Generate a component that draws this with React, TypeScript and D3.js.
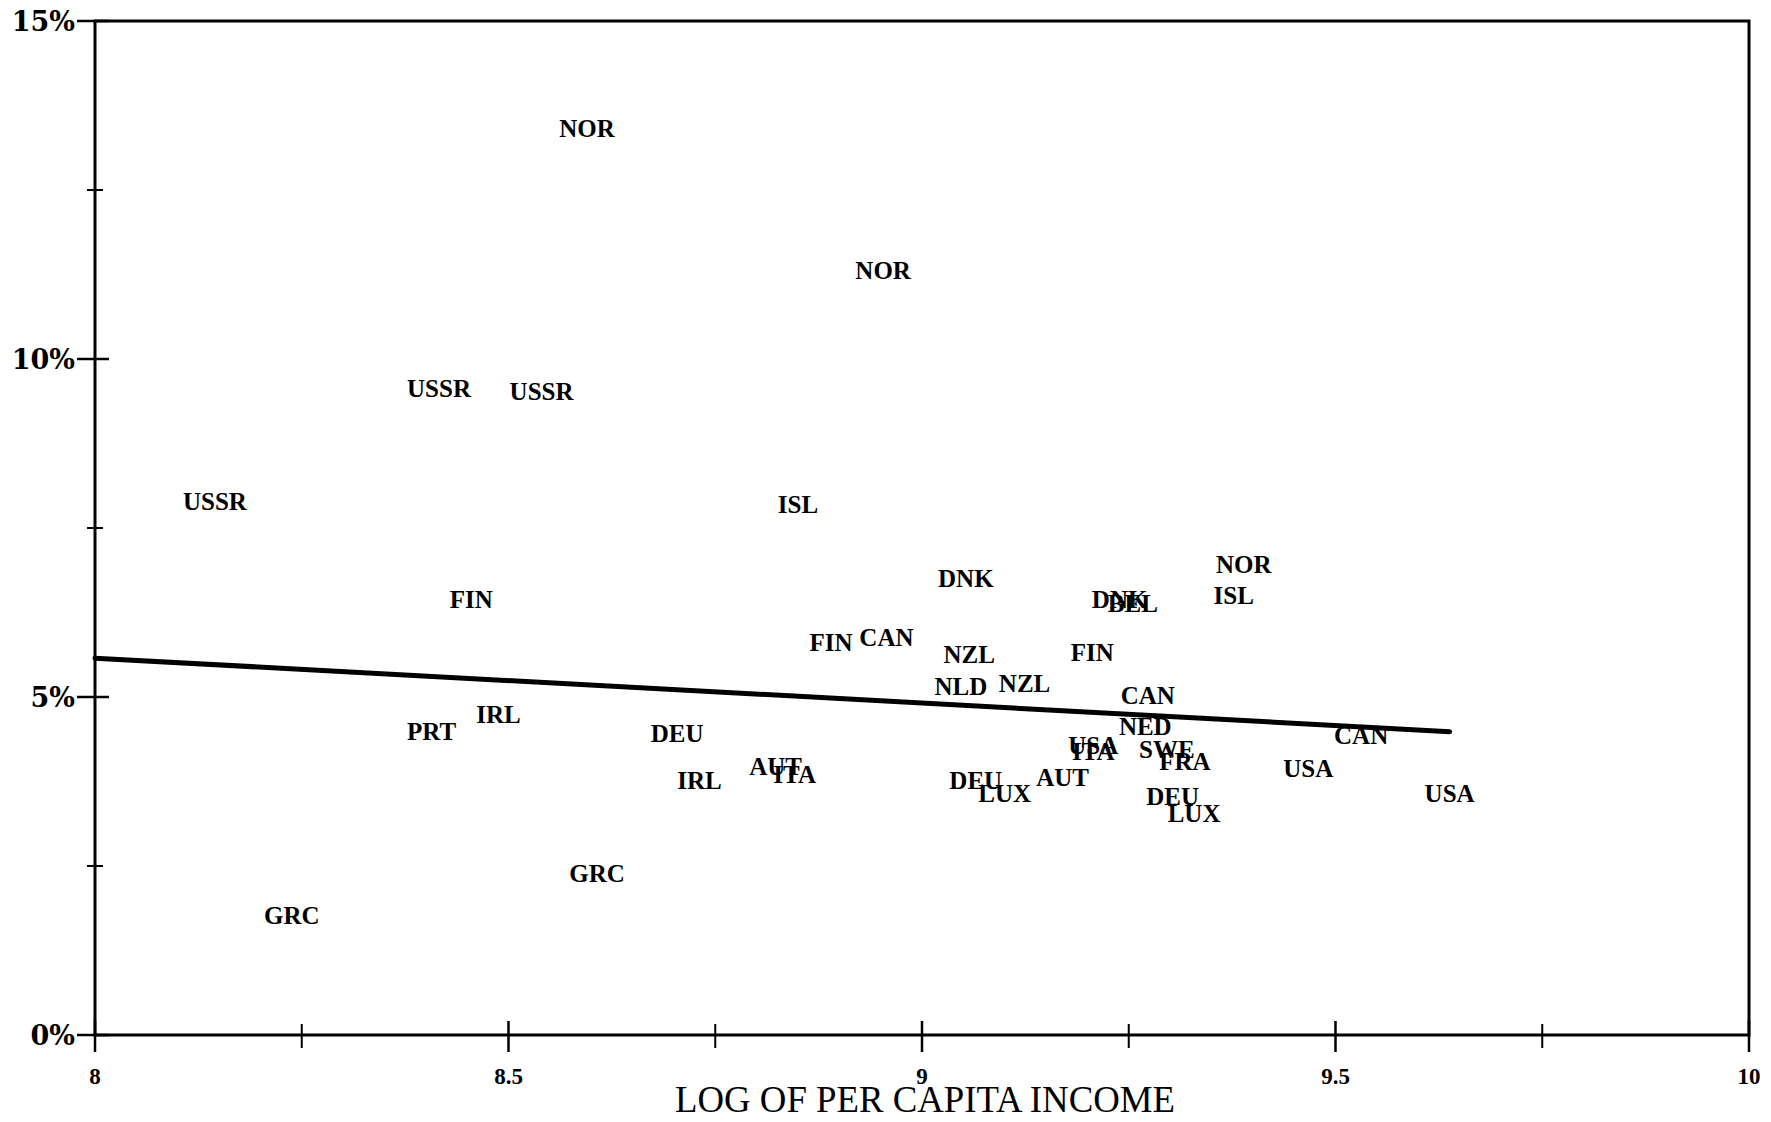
import React from "react";
import * as d3 from "d3";

const countries = ["NOR","NOR","USSR","USSR","USSR","ISL","FIN","DNK","NOR","ISL","DNK","BEL","FIN","CAN","NZL","FIN","NLD","NZL","CAN","NED","USA","ITA","SWE","FRA","CAN","USA","USA","DEU","LUX","AUT","DEU","LUX","AUT","ITA","IRL","DEU","IRL","PRT","GRC","GRC"];
const logIncome = [8.595,8.953,8.416,8.540,8.145,8.850,8.455,9.053,9.389,9.377,9.239,9.255,8.890,8.957,9.057,9.206,9.047,9.124,9.273,9.270,9.207,9.207,9.296,9.318,9.531,9.467,9.638,9.303,9.329,9.170,9.065,9.100,8.823,8.846,8.731,8.704,8.488,8.407,8.607,8.238];
const rates = [13.41,11.32,9.56,9.53,7.89,7.85,6.45,6.75,6.96,6.51,6.45,6.38,5.81,5.89,5.63,5.66,5.16,5.21,5.02,4.57,4.29,4.20,4.22,4.05,4.44,3.95,3.58,3.53,3.28,3.82,3.77,3.58,3.98,3.85,3.77,4.47,4.75,4.49,2.39,1.77];

const fitX = [8, 9.638];
const fitY = [5.575, 4.487];

const xMajorTicks = [8, 8.5, 9, 9.5, 10];
const xTickLabels = ["8", "8.5", "9", "9.5", "10"];
const xMinorTicks = [8.25, 8.75, 9.25, 9.75];
const yMajorTicks = [0, 5, 10, 15];
const yTickLabels = ["0%", "5%", "10%", "15%"];
const yMinorTicks = [2.5, 7.5, 12.5];

const W = 1771, H = 1122;
const left = 95, right = 1749, top = 21, bottom = 1035;

export default function App() {
  const x = d3.scaleLinear().domain([8, 10]).range([left, right]);
  const y = d3.scaleLinear().domain([0, 15]).range([bottom, top]);
  const line = d3.line<[number, number]>().x(d => x(d[0])).y(d => y(d[1]));
  const fitPts: [number, number][] = fitX.map((v, i) => [v, fitY[i]]);
  const serif = "'Liberation Serif', 'Times New Roman', serif";
  return (
    <svg width={W} height={H} style={{ position: "absolute", left: 0, top: 0, background: "#fff" }}>
      <rect x={0} y={0} width={W} height={H} fill="#fff" />
      {/* frame */}
      <rect x={left} y={top} width={right - left} height={bottom - top} fill="none" stroke="#000" strokeWidth={3} />
      {/* y ticks */}
      {yMajorTicks.map((t, i) => (
        <g key={"ym" + i}>
          <line x1={left - 18} x2={left + 14} y1={y(t)} y2={y(t)} stroke="#000" strokeWidth={2.5} />
          <text x={left - 20} y={y(t)} dy="0.36em" textAnchor="end" fontFamily="'DejaVu Serif', serif" fontWeight="bold" fontSize={27}>{yTickLabels[i]}</text>
        </g>
      ))}
      {yMinorTicks.map((t, i) => (
        <line key={"yn" + i} x1={left - 8} x2={left + 8} y1={y(t)} y2={y(t)} stroke="#000" strokeWidth={2} />
      ))}
      {/* x ticks */}
      {xMajorTicks.map((t, i) => (
        <g key={"xm" + i}>
          <line x1={x(t)} x2={x(t)} y1={bottom - 14} y2={bottom + 17} stroke="#000" strokeWidth={2.5} />
          <text x={x(t)} y={bottom + 49} textAnchor="middle" fontFamily={serif} fontWeight="bold" fontSize={23}>{xTickLabels[i]}</text>
        </g>
      ))}
      {xMinorTicks.map((t, i) => (
        <line key={"xn" + i} x1={x(t)} x2={x(t)} y1={bottom - 11} y2={bottom + 13} stroke="#000" strokeWidth={2} />
      ))}
      {/* axis title */}
      <text x={925} y={1112} textAnchor="middle" fontFamily={serif} fontSize={37} textLength={500} lengthAdjust="spacingAndGlyphs">LOG OF PER CAPITA INCOME</text>
      {/* regression line */}
      <path d={line(fitPts) || ""} fill="none" stroke="#000" strokeWidth={5} strokeLinecap="round" />
      {/* labels */}
      {countries.map((c, i) => (
        <text key={"c" + i} x={x(logIncome[i])} y={y(rates[i])} dy="0.35em" textAnchor="middle" fontFamily={serif} fontWeight="bold" fontSize={25}>{c}</text>
      ))}
    </svg>
  );
}
